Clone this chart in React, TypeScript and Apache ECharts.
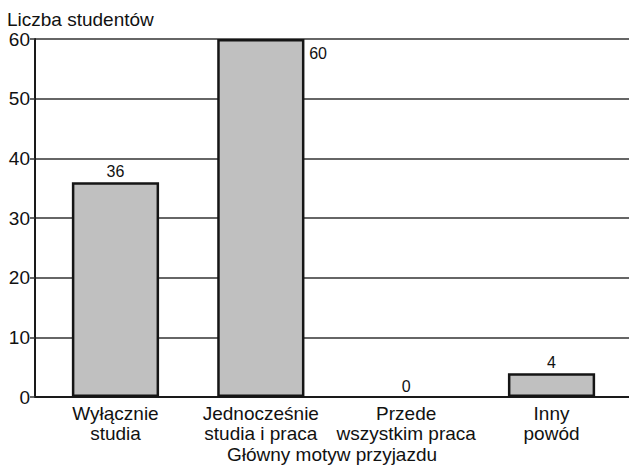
import React, { useEffect, useRef } from "react";
import * as echarts from "echarts";

const categories = [
  "Wyłącznie\nstudia",
  "Jednocześnie\nstudia i praca",
  "Przede\nwszystkim praca",
  "Inny\npowód",
];
const values = [36, 60, 0, 4];
const yTitle = "Liczba studentów";
const xTitle = "Główny motyw przyjazdu";

const FONT = "'Liberation Sans', Arial, Helvetica, sans-serif";

export default function App() {
  const ref = useRef<HTMLDivElement>(null);
  useEffect(() => {
    if (!ref.current) return;
    const chart = echarts.init(ref.current, undefined, { renderer: "svg" });
    chart.setOption({
      animation: false,
      backgroundColor: "#ffffff",
      textStyle: { fontFamily: FONT },
      title: {
        text: yTitle,
        left: 7,
        top: 10,
        padding: 0,
        textStyle: { fontFamily: FONT, fontSize: 19, fontWeight: "normal", color: "#111" },
      },
      grid: [
        { left: 35, right: 0, top: 39, bottom: 69, containLabel: false, outerBoundsMode: "none" },
        { left: 42.8, right: 4.8, top: 39, bottom: 69, containLabel: false, outerBoundsMode: "none" },
      ],
      xAxis: [
        {
          gridIndex: 0,
          type: "category",
          data: [""],
          axisLine: { show: true, lineStyle: { color: "#1a1a1a", width: 2 } },
          axisTick: { show: false },
          axisLabel: { show: false },
          name: xTitle,
          nameLocation: "middle",
          nameGap: 48,
          nameTextStyle: { fontFamily: FONT, fontSize: 19, color: "#111" },
        },
        {
          gridIndex: 1,
          type: "category",
          data: categories,
          axisLine: { show: false },
          axisTick: { show: false },
          axisLabel: {
            fontFamily: FONT,
            fontSize: 19,
            lineHeight: 20,
            margin: 6,
            color: "#111",
            interval: 0,
          },
        },
      ],
      yAxis: [
        {
          gridIndex: 0,
          type: "value",
          min: 0,
          max: 60,
          interval: 10,
          axisLine: { show: true, lineStyle: { color: "#1a1a1a", width: 2 } },
          axisTick: { show: true, length: 5, lineStyle: { color: "#333", width: 1.5 } },
          axisLabel: { fontFamily: FONT, fontSize: 19, color: "#111", margin: 5 },
          splitLine: { show: true, lineStyle: { color: "#333", width: 1.5 } },
        },
        {
          gridIndex: 1,
          type: "value",
          min: 0,
          max: 60,
          show: false,
          splitLine: { show: false },
        },
      ],
      series: [
        {
          type: "bar",
          xAxisIndex: 1,
          yAxisIndex: 1,
          barWidth: "60%",
          data: values.map((v, i) => {
            if (i === 1) return { value: v, label: { position: [92, 6] } };
            if (v === 0) return { value: v, itemStyle: { borderWidth: 0 } };
            return v;
          }),
          itemStyle: { color: "#c0c0c0", borderColor: "#151515", borderWidth: 2.5 },
          label: {
            show: true,
            position: "top",
            distance: 3,
            fontFamily: FONT,
            fontSize: 16,
            color: "#111",
          },
        },
      ],
    });
    return () => chart.dispose();
  }, []);
  return (
    <div
      ref={ref}
      style={{ position: "fixed", left: 0, top: 0, width: 629, height: 466, background: "#fff" }}
    />
  );
}
